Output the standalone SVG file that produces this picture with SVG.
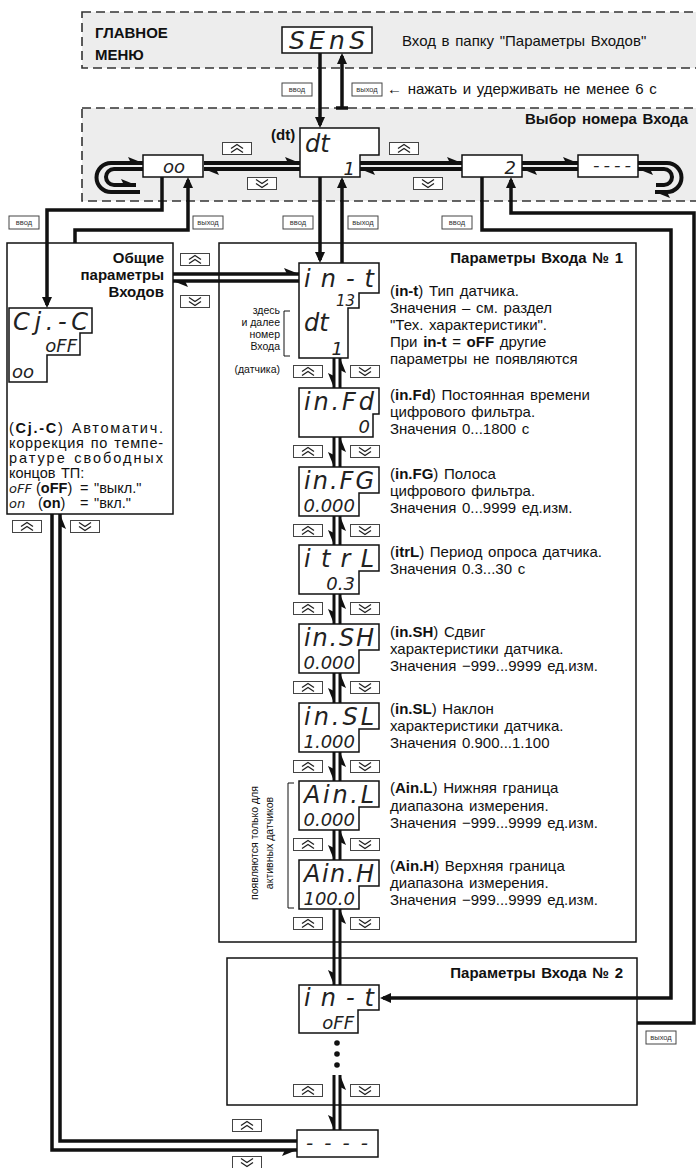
<svg xmlns="http://www.w3.org/2000/svg" width="696" height="1168" viewBox="0 0 696 1168">
<style>
.t{font-family:"Liberation Sans",Arial,sans-serif;font-size:15px;fill:#111;word-spacing:1.5px}
.p{font-size:14.5px}
.b{font-weight:bold}
.s{font-family:"Liberation Sans",Arial,sans-serif;font-size:10.5px;fill:#111}
.d{font-family:"DejaVu Sans","DejaVu Sans Mono",sans-serif;font-weight:200;font-style:italic;fill:#222}
.box{fill:#fff;stroke:#111;stroke-width:1.5}
.pan{fill:#fff;stroke:#111;stroke-width:1.5}
.dash{fill:#ededed;stroke:#333;stroke-width:1.6;stroke-dasharray:9 5}
.L{fill:none;stroke:#111;stroke-width:3.5;stroke-linecap:butt}
.L4{fill:none;stroke:#111;stroke-width:4}
.L3{fill:none;stroke:#111;stroke-width:3}
.bt{fill:#fff;stroke:#444;stroke-width:1}
.btx{font-family:"Liberation Sans",Arial,sans-serif;font-size:7.5px;fill:#333;text-anchor:middle}
.ch{fill:none;stroke:#222;stroke-width:1.3}
.thin{fill:none;stroke:#111;stroke-width:1}
</style>
<defs>
<marker id="af" markerUnits="userSpaceOnUse" markerWidth="12" markerHeight="10" refX="8" refY="5" orient="auto" overflow="visible"><path d="M0,0 L11,5 L0,10 Z" fill="#111"/></marker>
<marker id="hl" markerUnits="userSpaceOnUse" markerWidth="16" markerHeight="12" refX="15" refY="6" orient="auto" overflow="visible"><path d="M15,6 L0,0 L3,6 Z" fill="#111"/></marker>
<marker id="hr" markerUnits="userSpaceOnUse" markerWidth="16" markerHeight="12" refX="15" refY="6" orient="auto" overflow="visible"><path d="M15,6 L0,12 L3,6 Z" fill="#111"/></marker>
<symbol id="bu" overflow="visible"><rect class="bt" x="0.5" y="0.5" width="29" height="12"/><polyline class="ch" points="9,6.5 15,2.5 21,6.5"/><polyline class="ch" points="9,10.5 15,6.5 21,10.5"/></symbol>
<symbol id="bd" overflow="visible"><rect class="bt" x="0.5" y="0.5" width="29" height="12"/><polyline class="ch" points="9,2.5 15,6.5 21,2.5"/><polyline class="ch" points="9,6.5 15,10.5 21,6.5"/></symbol>
</defs>
<rect width="696" height="1168" fill="#fff"/>

<g id="frames">
<rect class="dash" x="82" y="12" width="640" height="56"/>
<rect class="dash" x="82" y="108" width="640" height="93"/>
<text class="t b" x="95" y="38">ГЛАВНОЕ</text>
<text class="t b" x="95" y="60">МЕНЮ</text>
<text class="t" x="402" y="46">Вход в папку "Параметры Входов"</text>
<text class="t" x="387" y="94">← нажать и удерживать не менее 6 с</text>
<text class="t b" x="688" y="124" text-anchor="end">Выбор номера Входа</text>
<text class="t b" x="271" y="140" font-size="14">(dt)</text>
</g>

<g id="panel-common">
<rect class="pan" x="7" y="243" width="166" height="271"/>
<text class="t b" x="164" y="263" text-anchor="end">Общие</text>
<text class="t b" x="164" y="280" text-anchor="end">параметры</text>
<text class="t b" x="164" y="297" text-anchor="end">Входов</text>
<text class="t p" x="9" y="433" textLength="154" lengthAdjust="spacing">(<tspan class="b">Cj.-C</tspan>) Автоматич.</text>
<text class="t p" x="9" y="448" textLength="154" lengthAdjust="spacing">коррекция по темпе-</text>
<text class="t p" x="9" y="463" textLength="154" lengthAdjust="spacing">ратуре свободных</text>
<text class="t p" x="9" y="478">концов ТП:</text>
<text class="t p" y="493"><tspan class="d" x="9" font-size="13">oFF</tspan><tspan x="36">(</tspan><tspan class="b">oFF</tspan><tspan>)</tspan><tspan x="80">= "выкл."</tspan></text>
<text class="t p" y="508"><tspan class="d" x="9" font-size="13">on</tspan><tspan x="38">(</tspan><tspan class="b">on</tspan><tspan>)</tspan><tspan x="80">= "вкл."</tspan></text>
</g>

<g id="panel-input1">
<rect class="pan" x="219" y="243" width="417" height="699"/>
<text class="t b" x="623" y="263" text-anchor="end">Параметры Входа № 1</text>
<text class="s" x="280" y="314" text-anchor="end">здесь</text>
<text class="s" x="280" y="326" text-anchor="end">и далее</text>
<text class="s" x="280" y="338" text-anchor="end">номер</text>
<text class="s" x="280" y="350" text-anchor="end">Входа</text>
<text class="s" x="280" y="373" text-anchor="end">(датчика)</text>
<path class="thin" d="M290,311H284V356H290"/>
<text class="s" font-size="11.5" transform="translate(258,843) rotate(-90)" text-anchor="middle">появляются только для</text>
<text class="s" font-size="11.5" transform="translate(273,843) rotate(-90)" text-anchor="middle">активных датчиков</text>
<path class="thin" d="M294,783H288V908H294"/>
<text class="t" x="390" y="296">(<tspan class="b">in-t</tspan>) Тип датчика.</text>
<text class="t" x="390" y="313">Значения – см. раздел</text>
<text class="t" x="390" y="330">"Тех. характеристики".</text>
<text class="t" x="390" y="347">При <tspan class="b">in-t</tspan> = <tspan class="b">oFF</tspan> другие</text>
<text class="t" x="390" y="364">параметры не появляются</text>
<text class="t" x="390" y="400">(<tspan class="b">in.Fd</tspan>) Постоянная времени</text>
<text class="t" x="390" y="417">цифрового фильтра.</text>
<text class="t" x="390" y="434">Значения 0...1800 с</text>
<text class="t" x="390" y="479">(<tspan class="b">in.FG</tspan>) Полоса</text>
<text class="t" x="390" y="496">цифрового фильтра.</text>
<text class="t" x="390" y="513">Значения 0...9999 ед.изм.</text>
<text class="t" x="390" y="557">(<tspan class="b">itrL</tspan>) Период опроса датчика.</text>
<text class="t" x="390" y="574">Значения 0.3...30 с</text>
<text class="t" x="390" y="637">(<tspan class="b">in.SH</tspan>) Сдвиг</text>
<text class="t" x="390" y="654">характеристики датчика.</text>
<text class="t" x="390" y="671">Значения −999...9999 ед.изм.</text>
<text class="t" x="390" y="714">(<tspan class="b">in.SL</tspan>) Наклон</text>
<text class="t" x="390" y="731">характеристики датчика.</text>
<text class="t" x="390" y="748">Значения 0.900...1.100</text>
<text class="t" x="390" y="793">(<tspan class="b">Ain.L</tspan>) Нижняя граница</text>
<text class="t" x="390" y="811">диапазона измерения.</text>
<text class="t" x="390" y="828">Значения −999...9999 ед.изм.</text>
<text class="t" x="390" y="871">(<tspan class="b">Ain.H</tspan>) Верхняя граница</text>
<text class="t" x="390" y="888">диапазона измерения.</text>
<text class="t" x="390" y="905">Значения −999...9999 ед.изм.</text>
</g>

<g id="panel-input2">
<rect class="pan" x="227" y="958" width="410" height="147"/>
<text class="t b" x="623" y="978" text-anchor="end">Параметры Входа № 2</text>
<circle cx="337" cy="1043" r="2.8" fill="#111"/>
<circle cx="337" cy="1054" r="2.8" fill="#111"/>
<circle cx="337" cy="1065" r="2.8" fill="#111"/>
</g>

<g id="connectors">
<path class="L" d="M320,53V125" marker-end="url(#af)"/>
<path class="L" d="M342,108V56" marker-end="url(#af)"/>
<path class="L" d="M336,108H348" stroke-width="2"/>
<path class="L" d="M320,177V260" marker-end="url(#af)"/>
<path class="L" d="M342,263V180" marker-end="url(#af)"/>
<path class="L" d="M162,177V210H47V305" marker-end="url(#af)"/>
<path class="L" d="M75,243V230H188V180" marker-end="url(#af)"/>
<path class="L" d="M482,177V230H671V998H383" marker-end="url(#af)"/>
<path class="L" d="M637,1023H694V213H511V180" marker-end="url(#af)"/>
<path class="L4" d="M204,163H300" marker-end="url(#hl)"/>
<path class="L4" d="M300,169H204" marker-end="url(#hl)"/>
<path class="L4" d="M360,163H462" marker-end="url(#hl)"/>
<path class="L4" d="M462,169H360" marker-end="url(#hl)"/>
<path class="L4" d="M522,163H578" marker-end="url(#hl)"/>
<path class="L4" d="M578,169H522" marker-end="url(#hl)"/>
<path class="L4" d="M140,192H111A14.5,14.5 0 0 1 111,163H143" marker-end="url(#hl)"/>
<path class="L4" d="M143,169H114A8,8 0 0 0 114,185H136" marker-end="url(#hl)"/>
<path class="L4" d="M638,163H667A14.5,14.5 0 0 1 667,192H655" marker-end="url(#hl)"/>
<path class="L4" d="M656,185H664A8,8 0 0 0 664,169H638" marker-end="url(#hl)"/>
<path class="L" d="M173,274H299" marker-end="url(#hl)"/>
<path class="L" d="M299,281H173" marker-end="url(#hl)"/>
<path class="L3" d="M334,358V388" marker-end="url(#hr)"/><path class="L3" d="M340,388V358" marker-end="url(#hr)"/>
<path class="L3" d="M334,437V467" marker-end="url(#hr)"/><path class="L3" d="M340,467V437" marker-end="url(#hr)"/>
<path class="L3" d="M334,516V545" marker-end="url(#hr)"/><path class="L3" d="M340,545V516" marker-end="url(#hr)"/>
<path class="L3" d="M334,594V624" marker-end="url(#hr)"/><path class="L3" d="M340,624V594" marker-end="url(#hr)"/>
<path class="L3" d="M334,673V703" marker-end="url(#hr)"/><path class="L3" d="M340,703V673" marker-end="url(#hr)"/>
<path class="L3" d="M334,752V781" marker-end="url(#hr)"/><path class="L3" d="M340,781V752" marker-end="url(#hr)"/>
<path class="L3" d="M334,830V860" marker-end="url(#hr)"/><path class="L3" d="M340,860V830" marker-end="url(#hr)"/>
<path class="L3" d="M334,909V985" marker-end="url(#hr)"/><path class="L3" d="M340,985V909" marker-end="url(#hr)"/>
<path class="L3" d="M334,1075V1130" marker-end="url(#hr)"/><path class="L3" d="M340,1130V1075" marker-end="url(#hr)"/>
<path class="L" d="M52,514V1150H297" marker-end="url(#hr)"/>
<path class="L" d="M297,1141H60V514" marker-end="url(#hr)"/>
</g>

<g id="labels">
<rect class="bt" x="282" y="83" width="30" height="13"/><text class="btx" x="297" y="92">ввод</text>
<rect class="bt" x="352" y="83" width="30" height="13"/><text class="btx" x="367" y="92">выход</text>
<rect class="bt" x="9" y="216" width="30" height="13"/><text class="btx" x="24" y="225">ввод</text>
<rect class="bt" x="193" y="216" width="30" height="13"/><text class="btx" x="208" y="225">выход</text>
<rect class="bt" x="283" y="216" width="30" height="13"/><text class="btx" x="298" y="225">ввод</text>
<rect class="bt" x="348" y="216" width="30" height="13"/><text class="btx" x="363" y="225">выход</text>
<rect class="bt" x="442" y="216" width="30" height="13"/><text class="btx" x="457" y="225">ввод</text>
<rect class="bt" x="646" y="1031" width="30" height="13"/><text class="btx" x="661" y="1040">выход</text>
<use href="#bu" x="222" y="142"/><use href="#bd" x="247" y="177"/>
<use href="#bu" x="389" y="142"/><use href="#bd" x="413" y="177"/>
<use href="#bu" x="180" y="253"/><use href="#bd" x="180" y="295"/>
<use href="#bu" x="12" y="520"/><use href="#bd" x="70" y="520"/>
<use href="#bu" x="293" y="365"/><use href="#bd" x="350" y="365"/>
<use href="#bu" x="293" y="445"/><use href="#bd" x="350" y="445"/>
<use href="#bu" x="293" y="524"/><use href="#bd" x="350" y="524"/>
<use href="#bu" x="293" y="602"/><use href="#bd" x="350" y="602"/>
<use href="#bu" x="293" y="681"/><use href="#bd" x="350" y="681"/>
<use href="#bu" x="293" y="760"/><use href="#bd" x="350" y="760"/>
<use href="#bu" x="293" y="838"/><use href="#bd" x="350" y="838"/>
<use href="#bu" x="293" y="917"/><use href="#bd" x="350" y="917"/>
<use href="#bu" x="293" y="1084"/><use href="#bd" x="350" y="1084"/>
<use href="#bu" x="232" y="1119"/><use href="#bd" x="232" y="1156"/>
</g>

<g id="n-sens"><rect class="box" x="282" y="27" width="90" height="26"/><text class="d" x="289" y="49" font-size="25" textLength="76" lengthAdjust="spacing">SEnS</text></g>
<g id="n-oo"><rect class="box" x="143" y="155" width="60" height="22"/><text class="d" x="174" y="173" font-size="18" text-anchor="middle">oo</text></g>
<g id="n-dt"><path class="box" d="M300,128H379V155H360V177H300Z"/><text class="d" x="305" y="152" font-size="24">dt</text><text class="d" x="355" y="175" font-size="18" text-anchor="end">1</text></g>
<g id="n-2"><rect class="box" x="462" y="155" width="60" height="22"/><text class="d" x="516" y="174" font-size="18" text-anchor="end">2</text></g>
<g id="n-dash"><rect class="box" x="578" y="155" width="60" height="22"/><text class="d" x="593" y="171" font-size="18" textLength="38" lengthAdjust="spacing">----</text></g>
<g id="n-cjc"><path class="box" d="M9,308H92V333H80V355H47V382H9Z"/><text class="d" x="13" y="330" font-size="24" textLength="75" lengthAdjust="spacing">Cj.-C</text><text class="d" x="77" y="352" font-size="18" text-anchor="end">oFF</text><text class="d" x="12" y="378" font-size="18">oo</text></g>
<g id="n-int"><path class="box" d="M299,263H379V293H359V308H348V358H299Z"/><text class="d" x="304" y="287" font-size="24" textLength="70" lengthAdjust="spacing">in-t</text><text class="d" x="355" y="306" font-size="15" text-anchor="end">13</text><text class="d" x="304" y="331" font-size="24">dt</text><text class="d" x="343" y="355" font-size="18" text-anchor="end">1</text></g>
<g id="n-infd"><path class="box" d="M299,388H379V414H373V437H299Z"/><text class="d" x="304" y="410" font-size="24" textLength="70" lengthAdjust="spacing">in.Fd</text><text class="d" x="370" y="433" font-size="18" text-anchor="end">0</text></g>
<g id="n-infg"><path class="box" d="M299,467H379V493H359V516H299Z"/><text class="d" x="304" y="489" font-size="24" textLength="70" lengthAdjust="spacing">in.FG</text><text class="d" x="355" y="512" font-size="18" text-anchor="end">0.000</text></g>
<g id="n-itrl"><path class="box" d="M299,545H379V571H359V594H299Z"/><text class="d" x="304" y="567" font-size="24" textLength="70" lengthAdjust="spacing">itrL</text><text class="d" x="355" y="590" font-size="18" text-anchor="end">0.3</text></g>
<g id="n-insh"><path class="box" d="M299,624H379V650H359V673H299Z"/><text class="d" x="304" y="646" font-size="24" textLength="70" lengthAdjust="spacing">in.SH</text><text class="d" x="355" y="669" font-size="18" text-anchor="end">0.000</text></g>
<g id="n-insl"><path class="box" d="M299,703H379V729H359V752H299Z"/><text class="d" x="304" y="725" font-size="24" textLength="70" lengthAdjust="spacing">in.SL</text><text class="d" x="355" y="748" font-size="18" text-anchor="end">1.000</text></g>
<g id="n-ainl"><path class="box" d="M299,781H379V807H359V830H299Z"/><text class="d" x="304" y="803" font-size="24" textLength="70" lengthAdjust="spacing">Ain.L</text><text class="d" x="355" y="826" font-size="18" text-anchor="end">0.000</text></g>
<g id="n-ainh"><path class="box" d="M299,860H379V886H359V909H299Z"/><text class="d" x="304" y="882" font-size="24" textLength="70" lengthAdjust="spacing">Ain.H</text><text class="d" x="355" y="905" font-size="18" text-anchor="end">100.0</text></g>
<g id="n-int2"><path class="box" d="M299,985H379V1010H358V1033H299Z"/><text class="d" x="304" y="1006" font-size="24" textLength="70" lengthAdjust="spacing">in-t</text><text class="d" x="354" y="1029" font-size="18" text-anchor="end">oFF</text></g>
<g id="n-dash2"><rect class="box" x="297" y="1130" width="81" height="27"/><text class="d" x="306" y="1150" font-size="20" textLength="62" lengthAdjust="spacing">----</text></g>
</svg>
